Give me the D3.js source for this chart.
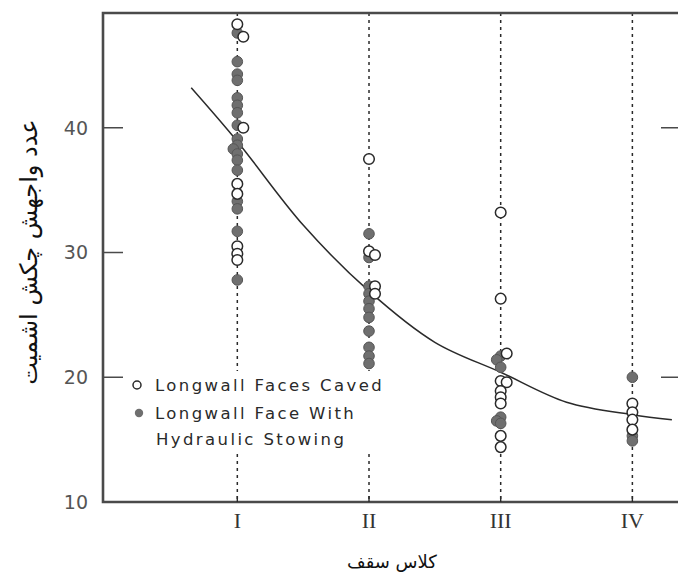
<!DOCTYPE html>
<html>
<head>
<meta charset="utf-8">
<script src="https://cdn.jsdelivr.net/npm/d3@7"></script>
<style>
  html, body { margin: 0; padding: 0; background: #fff; }
  svg { display: block; }
</style>
</head>
<body>
<svg id="chart" width="678" height="580"></svg>
<script>
// Roof classes on the x axis
const classes = ["I", "II", "III", "IV"];

// Schmidt hammer rebound numbers, longwall faces caved (open circles), per class
const cavedValues = [
  [48.3, 47.3, 40.0, 35.5, 34.7, 30.5, 29.9, 29.4],
  [37.5, 30.1, 29.8, 27.3, 26.7],
  [33.2, 26.3, 21.9, 19.7, 19.6, 18.9, 18.4, 17.9, 15.3, 14.4],
  [17.9, 17.2, 16.6, 15.8]
];

// Longwall faces with hydraulic stowing (filled circles), per class
const stowedValues = [
  [47.6, 45.3, 44.3, 43.8, 42.4, 41.8, 41.2, 40.2, 39.1, 38.6, 38.3, 37.9, 37.4, 36.6, 34.1, 33.5, 31.7, 27.8],
  [31.5, 29.6, 27.3, 26.7, 26.1, 25.5, 24.8, 23.7, 22.4, 21.7, 21.1],
  [21.7, 21.4, 20.8, 16.8, 16.5, 16.3],
  [20.0, 15.3, 14.9]
];

// Fitted trend curve (class position, rebound number)
const curveClass = [0.65, 1, 1.5, 2, 2.5, 3, 3.5, 4, 4.3];
const curveValue = [43.2, 38.9, 32.2, 26.9, 22.8, 20.4, 18.0, 17.0, 16.6];

// Axis ticks
const yTicks = [40, 30, 20, 10];
const rightTicks = [40, 20];

const legendLabels = ["Longwall Faces Caved", "Longwall Face With", "Hydraulic Stowing"];
const yTitle = "عدد واجهش چکش اشمیت";
const xTitle = "کلاس سقف";

const svg = d3.select("#chart");
const plotLeft = 103, plotRight = 689, plotTop = 13, plotBottom = 502;

const x = d3.scaleLinear().domain([-0.02, 4.43]).range([plotLeft, plotRight]);
const y = d3.scaleLinear().domain([10, 49.2]).range([plotBottom, plotTop]);

const ink = "#2a2a2a";
const frame = "#4a4a4a";

// Dashed verticals at each class
svg.append("g").selectAll("line").data(classes).join("line")
  .attr("x1", (d, i) => x(i + 1)).attr("x2", (d, i) => x(i + 1))
  .attr("y1", plotTop).attr("y2", plotBottom)
  .attr("stroke", ink).attr("stroke-width", 1.5)
  .attr("stroke-dasharray", "3,4");

// Inward ticks on the left and right axes
svg.append("g").selectAll("line").data(yTicks.filter(v => v > 10)).join("line")
  .attr("x1", plotLeft).attr("x2", plotLeft + 20)
  .attr("y1", d => y(d)).attr("y2", d => y(d))
  .attr("stroke", frame).attr("stroke-width", 1.5);
svg.append("g").selectAll("line").data(rightTicks).join("line")
  .attr("x1", plotRight - 28).attr("x2", plotRight)
  .attr("y1", d => y(d)).attr("y2", d => y(d))
  .attr("stroke", frame).attr("stroke-width", 1.5);

// Frame: left, bottom and top edges
svg.append("path")
  .attr("d", `M${plotRight},${plotTop}H${plotLeft}V${plotBottom}H${plotRight}`)
  .attr("fill", "none").attr("stroke", frame).attr("stroke-width", 2.6);

// Small tick marks on the bottom axis at each class
svg.append("g").selectAll("line").data(classes).join("line")
  .attr("x1", (d, i) => x(i + 1)).attr("x2", (d, i) => x(i + 1))
  .attr("y1", plotBottom - 6).attr("y2", plotBottom)
  .attr("stroke", ink).attr("stroke-width", 1.4);

// Y tick labels
svg.append("g").selectAll("text").data(yTicks).join("text")
  .attr("x", 88).attr("y", d => y(d))
  .attr("dy", "0.36em")
  .attr("text-anchor", "end")
  .attr("font-family", "DejaVu Sans, sans-serif")
  .attr("font-size", 19)
  .attr("fill", "#555")
  .text(d => d);

// Roman numeral class labels
svg.append("g").selectAll("text").data(classes).join("text")
  .attr("x", (d, i) => x(i + 1)).attr("y", 528)
  .attr("text-anchor", "middle")
  .attr("font-family", "Liberation Serif, DejaVu Serif, serif")
  .attr("font-size", 22)
  .attr("fill", "#333")
  .text(d => d);

// Trend curve
const curvePts = curveClass.map((c, i) => [x(c), y(curveValue[i])]);
svg.append("path")
  .attr("d", d3.line().curve(d3.curveCatmullRom.alpha(0.5))(curvePts))
  .attr("fill", "none").attr("stroke", ink).attr("stroke-width", 1.5);

// Legend panel (white ground interrupts the dashed verticals)
const legend = svg.append("g");
legend.append("rect")
  .attr("x", 126).attr("y", 371).attr("width", 270).attr("height", 79)
  .attr("fill", "#fff");

// Points: place each column's points, nudging sideways only where they nearly coincide
const r = 5.3;
const points = [];
classes.forEach((c, ci) => {
  const col = [];
  stowedValues[ci].forEach(v => col.push({ ci, v, filled: true }));
  cavedValues[ci].forEach(v => col.push({ ci, v, filled: false }));
  const placed = [];
  col.forEach(p => {
    const py = y(p.v);
    const offsets = p.filled ? [0, -4, 4, -7] : [0, 6, -5, 9];
    let chosen = 0;
    for (const o of offsets) {
      const ok = placed.every(q => Math.hypot(q.dx - o, q.py - py) >= 4.5);
      if (ok) { chosen = o; break; }
    }
    p.dx = chosen; p.py = py;
    placed.push(p);
    points.push(p);
  });
});

svg.append("g").selectAll("circle").data(points.filter(p => p.filled)).join("circle")
  .attr("cx", p => x(p.ci + 1) + p.dx).attr("cy", p => p.py)
  .attr("r", r)
  .attr("fill", "#6f6f6f").attr("stroke", "#555").attr("stroke-width", 1);

svg.append("g").selectAll("circle").data(points.filter(p => !p.filled)).join("circle")
  .attr("cx", p => x(p.ci + 1) + p.dx).attr("cy", p => p.py)
  .attr("r", r)
  .attr("fill", "#fff").attr("stroke", ink).attr("stroke-width", 1.5);

// Legend entries
legend.append("circle").attr("cx", 137).attr("cy", 385).attr("r", 4)
  .attr("fill", "#fff").attr("stroke", ink).attr("stroke-width", 1.5);
legend.append("circle").attr("cx", 139).attr("cy", 413).attr("r", 4.2)
  .attr("fill", "#6f6f6f");
legend.selectAll("text").data(legendLabels).join("text")
  .attr("x", (d, i) => i === 2 ? 156 : 155)
  .attr("y", (d, i) => [385, 413, 439][i])
  .attr("dy", "0.36em")
  .attr("font-family", "DejaVu Sans, sans-serif")
  .attr("font-size", 16.5)
  .attr("letter-spacing", 2.4)
  .attr("fill", "#2a2a2a")
  .text(d => d);

// Axis titles
svg.append("text")
  .attr("transform", "translate(28,252) rotate(-90)")
  .attr("text-anchor", "middle")
  .attr("dy", "0.36em")
  .attr("font-family", "DejaVu Sans, sans-serif")
  .attr("font-size", 24)
  .attr("fill", "#111")
  .text(yTitle);

svg.append("text")
  .attr("x", 392).attr("y", 568)
  .attr("text-anchor", "middle")
  .attr("font-family", "DejaVu Sans, sans-serif")
  .attr("font-size", 18)
  .attr("fill", "#111")
  .text(xTitle);
</script>
</body>
</html>
